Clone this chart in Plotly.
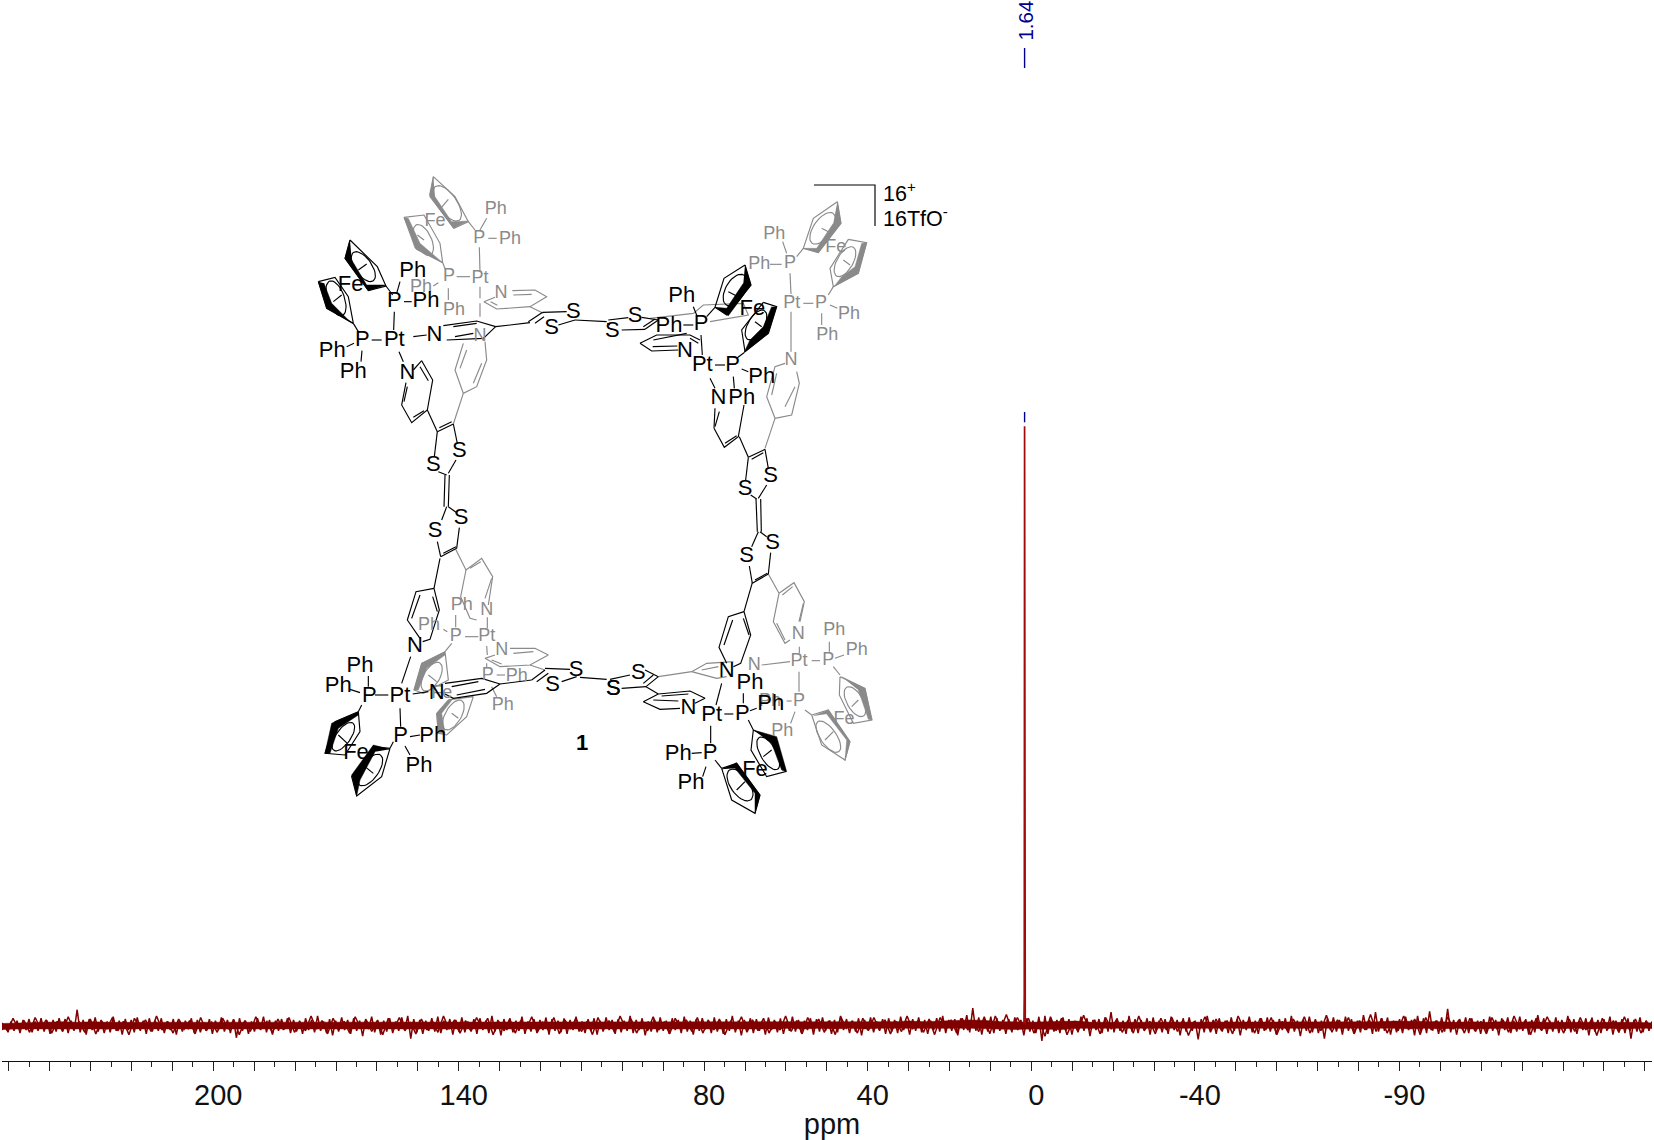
import numpy as np
import plotly.graph_objects as go

# ---------- spectrum data ----------
label_ppm = [200, 140, 80, 40, 0, -40, -90]
label_text = ["200", "140", "80", "40", "0", "-40", "-90"]
peak_label = "1.64"
peak_pos = 1.64
peak_ppm = [1.80, 1.72, 1.64, 1.56, 1.48]
peak_int = [0.3, 5.0, 100.0, 5.0, 0.3]
noise = [
 -0.6,0.1,-0.9,0.5,-0.7,0.6,-1.0,0.7,-0.6,0.8,-0.9,0.5,-0.7,0.9,-0.8,0.6,-1.1,0.7,-0.8,0.9,-0.6,0.8,-1.0,0.6,-0.7,2.0,-0.9,0.7,-1.2,0.8,-0.6,1.0,-0.8,0.7,-1.0,0.5,-0.9,1.1,-0.7,0.6,-1.2,0.8,-0.6,0.7,-0.9,1.0,-0.7,0.6,-1.1,0.9,
 -0.8,0.6,-0.7,0.9,-1.0,0.5,-0.6,0.8,-1.2,0.7,-0.8,0.6,-0.5,0.9,-1.0,0.7,-0.9,0.4,-0.7,0.8,-1.1,0.6,-0.6,1.0,-0.8,0.7,-1.0,0.8,-1.6,0.9,-0.7,0.6,-1.1,0.5,-0.8,0.9,-0.6,1.1,-0.9,0.7,-1.2,0.6,-0.7,0.8,-0.5,0.9,-1.0,0.7,-0.8,0.6,
 -1.1,0.9,-0.6,0.7,-0.9,1.2,-0.7,0.5,-1.0,0.8,-1.3,0.6,-0.8,1.0,-0.6,0.7,-1.1,0.9,-0.7,0.6,-1.4,0.8,-0.5,1.1,-0.9,0.7,-1.2,0.6,-0.8,0.9,-1.0,0.5,-0.7,1.0,-0.6,1.2,-1.7,0.8,-0.9,0.7,-1.1,0.6,-0.7,0.9,-0.8,1.1,-1.0,0.6,-0.6,0.8,
 -1.2,0.7,-0.8,1.0,-0.9,0.5,-0.7,0.8,-1.1,0.9,-0.6,0.6,-1.0,1.2,-0.8,0.7,-1.3,0.8,-0.6,0.9,-0.9,0.6,-0.7,1.1,-1.1,0.5,-0.8,0.8,-1.0,0.7,-0.6,1.0,-1.2,0.8,-0.7,0.6,-0.9,0.9,-1.1,0.7,-0.6,1.1,-0.8,0.5,-1.0,0.8,-0.7,0.9,-1.2,0.6,
 -0.8,1.0,-0.6,0.7,-1.1,0.8,-0.9,0.6,-0.7,1.2,-1.0,0.7,-0.6,0.9,-1.3,0.5,-0.8,0.8,-0.9,1.0,-0.7,0.6,-1.1,0.9,-0.6,0.7,-1.0,1.1,-0.8,0.6,-1.2,0.8,-0.7,0.9,-0.5,0.7,-1.0,1.0,-0.8,0.6,-1.1,0.8,-0.7,1.2,-0.9,0.6,-1.3,0.7,-0.6,0.9,
 -1.0,0.8,-0.7,0.6,-1.2,1.0,-0.6,0.7,-0.9,0.9,-1.1,0.5,-0.7,1.1,-0.8,0.7,-1.0,0.6,-0.6,0.9,-1.2,0.8,-0.8,1.0,-0.7,0.6,-1.1,0.7,-0.9,1.2,-0.6,0.8,-1.0,0.6,-0.8,0.9,-1.3,0.7,-0.6,1.0,-0.9,0.5,-0.7,0.8,-1.1,0.9,-0.8,0.7,-1.0,1.1,
 -0.6,0.6,-1.2,0.8,-0.7,1.0,-0.9,0.7,-1.1,0.6,-0.6,0.9,-0.8,1.2,-1.0,0.7,-0.7,0.8,-1.3,0.9,-0.6,1.3,-0.9,2.2,-0.7,1.0,-1.2,0.8,-0.8,1.1,-1.0,0.9,-0.7,0.7,-1.1,0.8,-0.9,1.0,-0.6,0.7,-1.3,0.9,-0.8,0.6,-1.0,1.1,-2.0,1.2,-1.1,0.9,
 -0.8,0.7,-1.0,1.0,-0.7,0.8,-1.2,0.6,-0.9,1.1,-0.7,0.9,-1.4,0.7,-0.6,0.8,-1.0,1.0,-0.8,1.7,-0.9,0.9,-0.7,0.6,-1.1,1.2,-0.8,0.8,-1.0,0.7,-0.6,0.9,-1.2,1.0,-0.7,0.6,-0.9,0.8,-1.1,1.1,-0.6,0.7,-1.3,0.9,-0.8,1.0,-0.7,0.6,-1.8,0.8,
 -0.9,1.2,-0.6,0.7,-1.1,0.9,-0.8,0.6,-1.0,1.0,-0.7,0.8,-1.3,0.7,-0.6,1.1,-0.9,0.6,-1.1,0.9,-0.7,1.0,-0.8,0.7,-1.2,0.8,-0.6,0.9,-1.0,1.2,-0.8,0.6,-1.4,0.7,-0.7,1.1,-0.9,0.8,-1.0,0.6,-1.7,0.9,-0.6,1.0,-0.8,0.7,-1.2,1.1,-0.7,0.8,
 -1.0,0.6,-0.9,1.3,-0.6,0.7,-1.1,1.7,-0.8,0.9,-0.7,1.0,-1.2,0.6,-0.9,0.8,-1.0,1.1,-0.6,0.7,-1.3,1.2,-0.8,0.9,-1.0,1.8,-0.7,0.6,-1.1,1.0,-0.8,2.1,-0.9,0.7,-1.2,0.8,-0.6,1.0,-1.0,0.9,-0.7,0.6,-1.1,0.8,-0.9,1.1,-0.7,0.7,-1.3,0.9,
 -0.6,1.0,-1.0,0.6,-0.8,1.1,-0.7,0.8,-1.2,0.7,-0.9,1.3,-0.6,0.9,-1.1,0.6,-0.8,1.0,-1.0,0.7,-0.7,1.2,-0.9,0.8,-1.1,0.6,-0.6,0.9,-1.3,1.0,-0.8,0.7,-1.0,0.8,-0.7,1.1,-1.2,0.6,-0.9,0.8,-1.0,0.9,-1.7,0.7,-0.8,1.0,-0.9,0.6,-0.7,0.5,
]
noise_b = [
 0.3,-0.7,0.9,-0.5,0.6,-0.9,1.0,-0.4,0.7,-1.0,0.5,-0.8,1.1,-0.6,0.4,-0.9,0.8,-1.1,0.6,-0.5,1.0,-0.7,0.5,-1.2,0.9,-0.4,0.7,-0.8,1.2,-0.6,
 0.5,-1.0,0.8,-0.5,0.6,-1.1,1.0,-0.7,0.4,-0.9,0.9,-0.5,0.7,-1.2,0.6,-0.8,1.1,-0.4,0.5,-1.0,0.8,-0.6,1.0,-0.9,0.4,-0.7,1.2,-0.5,0.6,-1.1,
 0.9,-0.6,0.5,-1.0,1.1,-0.4,0.7,-0.8,0.6,-1.2,0.9,-0.5,1.0,-0.7,0.4,-1.1,0.8,-0.6,0.5,-0.9,1.2,-0.5,0.7,-1.0,0.6,-0.8,1.0,-0.4,0.9,-1.2,
 0.5,-0.7,0.8,-1.0,0.6,-0.5,1.1,-0.9,0.4,-0.6,1.0,-1.1,0.7,-0.5,0.9,-0.8,0.5,-1.2,1.0,-0.6,0.6,-0.9,1.2,-0.4,0.8,-1.0,0.5,-0.7,1.1,-0.6,
 0.4,-1.1,0.9,-0.5,0.7,-0.8,1.0,-1.0,0.6,-0.6,0.8,-1.2,0.5,-0.4,1.1,-0.9,0.7,-0.7,0.9,-1.0,0.5,-0.6,1.2,-0.8,0.6,-1.1,1.0,-0.5,0.8,-0.9,
 0.6,-1.2,1.1,-0.4,0.5,-1.0,0.9,-0.7,1.0,-0.6,0.7,-1.1,0.5,-0.8,1.2,-0.5,0.6,-0.9,0.8,-1.2,1.0,-0.4,0.7,-1.0,0.9,-0.6,0.5,-0.8,1.1,-1.1,
 1.2,-0.5,1.4,-0.7,1.0,-0.4,0.9,-1.0,0.6,-1.4,1.1,-0.7,0.9,-1.2,0.5,-0.8,1.3,-0.6,0.7,-1.1,1.0,-0.5,0.8,-0.9,0.6,-1.0,1.2,-0.7,0.5,-1.1,
 0.9,-0.6,1.0,-0.8,0.7,-1.3,0.5,-0.5,1.1,-0.9,0.8,-0.7,0.6,-1.1,1.2,-0.4,0.7,-1.0,0.9,-0.6,1.0,-1.2,0.5,-0.8,0.8,-0.5,1.1,-1.0,0.6,-0.7,
 1.3,-0.9,0.7,-0.5,1.0,-1.1,0.6,-0.6,1.4,-0.8,0.9,-1.0,0.5,-0.7,1.2,-0.4,0.8,-1.2,1.0,-0.6,0.6,-0.9,1.1,-0.5,0.7,-1.0,0.9,-0.8,0.5,-1.1,
 1.0,-0.6,0.7,-0.9,1.2,-0.5,0.6,-1.2,0.9,-0.7,1.1,-0.4,0.5,-1.0,0.8,-0.8,1.0,-0.6,0.7,-1.3,0.9,-0.5,0.6,-0.9,1.1,-0.7,0.8,-1.0,0.5,-0.4,
]
# solid core of the noise band, read every 15 px or so
band_hi = [0.3,0.4,0.5,0.5,0.6,0.5,0.6,0.5,0.5,0.6,0.5,0.5,0.6,0.5,0.6,0.5,0.5,0.5,0.6,0.5,0.5,0.6,0.6,0.5,0.5,0.6,0.5,0.5,0.6,0.5,0.5,0.6,0.5,0.6,0.5,0.5,0.6,0.5,0.5,0.6,0.5,0.6,0.5,0.5,0.6,0.5,0.5,0.6,0.5,0.6,0.5,0.5,0.6,0.5,0.6,0.5,0.5,0.6,0.5,0.6,0.7,0.6,0.7,0.8,0.9,0.8,0.6,0.6,0.5,0.6,0.6,0.7,0.5,0.5,0.6,0.5,0.6,0.5,0.5,0.6,0.5,0.6,0.5,0.5,0.6,0.5,0.6,0.5,0.6,0.5,0.6,0.6,0.7,0.7,0.6,0.6,0.5,0.6,0.5,0.6,0.5,0.6,0.5,0.5,0.6,0.5,0.6,0.5,0.5,0.4]
band_lo = [-0.7,-0.6,-0.6,-0.5,-0.6,-0.5,-0.6,-0.6,-0.5,-0.6,-0.5,-0.6,-0.5,-0.5,-0.6,-0.6,-0.5,-0.6,-0.5,-0.6,-0.6,-0.5,-0.6,-0.5,-0.5,-0.6,-0.6,-0.5,-0.6,-0.5,-0.6,-0.5,-0.6,-0.5,-0.5,-0.6,-0.6,-0.5,-0.6,-0.5,-0.6,-0.5,-0.6,-0.6,-0.5,-0.5,-0.6,-0.5,-0.6,-0.5,-0.6,-0.6,-0.5,-0.6,-0.5,-0.6,-0.5,-0.6,-0.5,-0.5,-0.4,-0.5,-0.5,-0.5,-0.5,-0.6,-0.6,-0.7,-0.6,-0.6,-0.7,-0.5,-0.6,-0.5,-0.6,-0.5,-0.6,-0.6,-0.5,-0.6,-0.5,-0.6,-0.6,-0.5,-0.6,-0.5,-0.6,-0.5,-0.6,-0.6,-0.5,-0.5,-0.5,-0.6,-0.5,-0.6,-0.5,-0.6,-0.6,-0.5,-0.6,-0.5,-0.6,-0.6,-0.5,-0.6,-0.5,-0.6,-0.5,-0.5]
noise_ppm_start, noise_ppm_stop = 251.66, -151.76
NOISE_CAL = 1.3  # calibration of the typed noise readings to the picture

# ---------- scale of the page ----------
PX_ZERO, PX_PER_PPM = 1031.3, 4.09
BASE_Y, PX_PER_UNIT = 1025.3, 5.99
AXIS_Y = 1060.5
W, H = 1654, 1140
MAROON, NAVY, GRAY = "#800000", "#00008f", "#8a8a8a"
FONT = "Liberation Sans, Arial, sans-serif"

def ppm_at(px, off=0.0):
    return (PX_ZERO + off - px) / PX_PER_PPM
def inten_at(py):
    return (BASE_Y - py) / PX_PER_UNIT

# ---------- molecule drawing, in the crop frames it was read from ----------
def ell(cx, cy, a, b, deg):
    t = np.linspace(0, 2 * np.pi, 37)
    th = np.radians(deg)
    return list(zip(cx + a*np.cos(t)*np.cos(th) - b*np.sin(t)*np.sin(th),
                    cy + a*np.cos(t)*np.sin(th) + b*np.sin(t)*np.cos(th)))

frames = [
 dict(o=(300,160),
  k=[[(150,240),(232,320),(258,378),(205,392),(135,295),(150,240)],[(175,330),(200,312)],[(258,378),(278,405)],[(300,365),(290,400)],
     [(312,425),(335,425)],[(55,365),(105,352),(145,410),(160,490),(80,445),(55,365)],[(100,425),(125,405)],[(160,490),(175,515)],
     [(215,540),(245,540)],[(340,530),(380,525)],[(140,560),(162,550)],[(186,572),(183,605)],[(283,455),(281,510)],[(297,575),(310,605)],
     [(365,602),(398,660),(382,750),(335,788),(305,735),(318,668)],[(340,630),(365,602)],[(360,620),(385,662)],[(322,680),(312,725)],[(340,772),(372,752)],
     [(382,750),(412,815)],[(412,815),(460,792)],[(418,803),(455,785)],[(460,792),(472,850)],[(412,815),(403,890)],
     [(430,497),(530,483),(587,500),(550,535),(440,540)],[(460,500),(530,490)],[(465,530),(520,520)],[(587,500),(690,488)]],
  g=[[(400,50),(465,110),(505,185),(462,205),(390,110),(400,50)],[(422,145),(445,118)],[(505,185),(525,210)],[(560,175),(540,210)],[(565,235),(590,235)],
     [(538,262),(540,335)],[(312,172),(372,165),(420,250),(428,308),(350,268),(312,172)],[(428,308),(437,330)],[(470,350),(510,350)],[(415,368),(400,378)],[(445,385),(445,420)],
     [(540,380),(540,415)],[(540,430),(540,470)],[(637,392),(705,390),(740,410),(690,440),(590,447),(552,425),(585,412)],[(640,405),(695,403)],[(572,425),(592,436)],[(690,440),(730,460)],
     [(555,545),(560,600),(530,680),(490,700),(465,630),(490,550)],[(480,625),(500,570)],[(520,670),(545,610)],[(490,700),(460,792)],[(372,240),(352,225)]],
  kf=[[(150,240),(135,295),(205,392),(258,375),(200,375),(155,300)],[(55,365),(80,445),(160,492),(145,480),(95,430),(72,370)]],
  gf=[[(400,50),(388,105),(460,205),(505,183),(455,185),(405,110)],[(312,172),(345,265),(428,308),(400,285),(360,250),(325,175)]],
  ke=[(190,320,52,25,55),(108,415,55,25,70)],
  ge=[(442,130,62,28,55),(370,240,50,24,65)]),
 dict(o=(600,170),
  k=[[(435,285),(453,345),(380,435),(345,412),(372,325),(435,285)],[(385,365),(410,378)],[(345,412),(320,440)],[(280,410),(292,440)],[(250,465),(280,465)],[(303,495),(307,555)],
     [(345,585),(375,585)],[(490,397),(530,410),(505,490),(435,545),(425,480),(490,397)],[(465,455),(485,470)],[(432,548),(410,565)],[(425,597),(445,605)],[(400,620),(403,655)],[(330,625),(345,655)],
     [(120,520),(170,495),(270,495),(300,510)],[(120,520),(155,543),(235,540)],[(160,510),(260,490)],[(158,530),(232,528)],[(270,505),(295,520)],
     [(342,775),(373,832),(415,800),(432,705)],[(345,715),(342,775)],[(358,725),(345,770)],[(375,820),(410,797)]],
  g=[[(150,445),(280,430),(310,405),(430,400),(445,435),(330,455)],[(525,745),(575,735),(598,640),(590,605)],[(525,745),(500,680),(525,590),(555,580)],[(515,675),(530,610)],[(555,710),(585,650)],
     [(495,835),(525,745)],[(610,400),(640,400)],[(690,405),(712,415)],[(665,430),(665,465)],[(573,425),(573,545)],[(573,372),(570,310)],[(510,283),(545,283)],[(548,215),(560,250)],[(590,260),(610,235)],
     [(712,95),(723,160),(655,248),(610,235),(640,145),(712,95)],[(665,175),(685,185)],[(745,208),(800,218),(775,310),(700,350),(690,295),(745,208)],[(730,270),(750,285)],[(700,350),(685,375)]],
  kf=[[(435,285),(453,345),(385,437),(345,412),(380,415),(430,340)],[(530,410),(505,490),(432,548),(450,510),(490,470),(515,410)]],
  gf=[[(712,95),(723,160),(655,248),(610,235),(650,235),(700,160)],[(800,218),(775,310),(702,350),(725,320),(765,290),(785,220)]],
  ke=[(405,360,52,28,-60),(468,465,50,24,-60)],
  ge=[(668,175,55,27,-55),(735,275,50,24,-60)]),
 dict(o=(380,400),
  k=[[(175,215),(200,225)],[(228,180),(205,220)],[(195,225),(192,320)],[(208,225),(205,320)],
     [(200,320),(185,360)],[(205,320),(230,338)],[(172,425),(182,470)],[(238,383),(230,445)],[(182,470),(230,445)],[(190,460),(228,440)],
     [(1078,110),(1105,172)],[(1105,172),(1155,148)],[(1115,178),(1150,158)],
     [(1105,172),(1097,240)],[(1155,148),(1165,205)],[(1112,285),(1130,297)],[(1160,255),(1135,295)],[(1128,297),(1132,395)],[(1142,297),(1144,395)],[(1135,395),(1115,440)],[(1140,395),(1160,410)],
     [(1108,498),(1117,550)],[(1172,458),(1165,522)],[(1117,550),(1165,522)],[(1125,540),(1162,520)]],
  g=[],kf=[],gf=[],ke=[],ge=[]),
 dict(o=(520,270),
  k=[[(25,155),(68,127)],[(45,160),(72,140)],[(68,127),(140,125)],[(115,165),(165,150)],[(165,150),(260,155)],[(265,150),(325,143)],[(262,160),(270,165)],[(305,180),(375,178)],
     [(375,178),(415,150)],[(370,170),(405,147)],[(365,142),(415,150)]],
  g=[],kf=[],gf=[],ke=[],ge=[]),
 dict(o=(310,540),
  k=[[(372,145),(318,155),(292,240),(330,295)],[(372,145),(388,210),(360,298),(338,305)],[(330,165),(305,235)],[(368,170),(382,215)],[(372,145),(390,55)],
     [(195,465),(235,465)],[(308,462),(355,455)],[(275,430),(302,350)],[(175,408),(175,440)],[(120,448),(150,458)],[(270,505),(272,560)],[(300,590),(330,585)],[(285,618),(300,645)],
     [(155,495),(145,515)],[(145,515),(150,575),(105,645),(45,640),(75,545),(145,515)],[(85,585),(112,610)],[(250,605),(240,625)],[(240,625),(215,710),(140,768),(125,710),(190,620),(240,625)],[(165,680),(190,700)],
     [(405,430),(515,415),(570,432),(530,460),(430,475),(405,462)],[(425,440),(505,425)],[(440,465),(525,448)],[(570,432),(665,420)],[(665,420),(705,390)],[(680,425),(715,400)],[(705,385),(780,388)],[(755,425),(800,410)]],
  g=[[(437,28),(468,90)],[(468,90),(515,55),(548,110),(535,195)],[(480,85),(512,65)],[(545,115),(525,175)],[(468,90),(452,170),(480,235),(500,240)],[(465,290),(505,290)],[(400,268),(412,275)],[(437,225),(437,262)],[(532,232),(532,265)],
     [(530,318),(532,345)],[(530,370),(530,385)],[(600,325),(675,325),(715,345),(660,375),(570,380),(525,355),(555,345)],[(610,340),(670,335)],[(545,360),(575,372)],[(660,375),(705,390)],[(560,405),(585,405)],[(545,440),(560,470)],
     [(425,310),(405,335)],[(405,335),(415,420),(340,460),(312,450),(335,370),(405,335)],[(355,405),(380,425)],[(490,470),(470,530),(410,585),(385,580),(380,520),(415,480),(490,470)],[(425,520),(445,535)]],
  kf=[[(145,515),(65,550),(45,640),(60,640),(85,565),(145,525)],[(240,628),(190,615),(125,705),(140,768),(150,720),(195,635)]],
  gf=[[(405,335),(335,370),(312,450),(325,450),(350,385),(405,345)],[(380,520),(385,580),(405,580),(395,520),(430,475),(415,480)]],
  ke=[(100,590,50,22,-55),(180,690,55,26,-55)],
  ge=[(365,410,48,24,-60),(430,525,50,24,-60)]),
 dict(o=(440,620),
  k=[[(420,172),(500,178)],[(510,178),(570,165)],[(545,205),(618,200)],[(618,200),(655,170)],[(610,190),(640,165)],[(615,150),(655,170)],[(618,200),(655,222)],
     [(655,222),(610,245),(660,268),(720,265)],[(655,222),(750,213),(795,235),(765,250)],[(640,240),(715,243)],[(665,228),(745,222)]],
  g=[[(655,170),(755,155)],[(755,155),(800,130),(880,125)],[(755,155),(830,175),(860,170)],[(785,150),(835,140)]],
  kf=[],gf=[],ke=[],ge=[]),
 dict(o=(620,560),
  k=[[(372,155),(325,170),(297,262),(320,310)],[(372,155),(392,225),(362,310),(340,320)],[(338,180),(312,255)],[(370,175),(387,225)],[(397,68),(372,155)],
     [(313,462),(340,462)],[(370,400),(370,430)],[(390,452),(410,445)],[(288,435),(305,370)],[(272,497),(272,550)],[(215,580),(245,578)],[(258,620),(248,650)],
     [(385,480),(400,510)],[(400,510),(470,545),(497,635),(440,650),(393,570),(400,510)],[(430,590),(455,570)],[(285,600),(305,625)],[(305,625),(350,610),(420,705),(405,760),(335,720),(305,625)],[(350,690),(375,665)]],
  g=[[(425,315),(510,305)],[(575,302),(600,302)],[(628,245),(628,275)],[(645,295),(672,285)],[(538,260),(538,280)],[(445,42),(477,100)],[(477,100),(522,68),(553,125),(540,185)],[(477,100),(460,185),(495,250),(510,240)],[(487,105),(518,80)],[(550,130),(537,185)],[(470,190),(495,240)],
     [(537,335),(537,395)],[(525,455),(512,490)],[(500,423),(515,423)],[(640,320),(660,345)],[(660,350),(735,385),(755,480),(700,490),(658,405),(660,350)],[(695,440),(715,420)],[(555,450),(575,465)],[(575,465),(625,450),(690,545),(675,600),(605,555),(575,465)],[(615,540),(640,515)]],
  kf=[[(400,510),(470,530),(500,635),(485,630),(455,550)],[(305,628),(350,608),(420,705),(405,760),(405,700),(345,625)]],
  gf=[[(665,350),(735,385),(757,480),(745,478),(715,390)],[(580,468),(625,450),(690,545),(675,602),(680,540),(620,462)]],
  ke=[(445,580,55,24,60),(360,675,55,28,55)],
  ge=[(705,425,50,24,60),(625,530,55,24,55)]),
]
bracket = [(814,185),(875,185),(875,226)]

black_labels = {
 (300,160): [(338,335,"Ph"),(283,425,"P"),(378,425,"Ph"),(152,375,"Fe"),(187,540,"P"),(283,540,"Pt"),(403,525,"N"),(97,575,"Ph"),(160,638,"Ph"),(322,640,"N"),(820,458,"S"),(755,505,"S"),(478,875,"S")],
 (380,400): [(160,195,"S"),(165,395,"S"),(243,355,"S"),(1095,268,"S"),(1172,230,"S"),(1100,470,"S"),(1178,430,"S")],
 (520,270): [(345,138,"S"),(277,183,"S")],
 (600,170): [(245,380,"Ph"),(303,462,"P"),(207,470,"Ph"),(255,545,"N"),(307,585,"Pt"),(398,585,"P"),(485,622,"Ph"),(425,685,"Ph"),(355,685,"N"),(457,418,"Fe")],
 (310,540): [(315,320,"N"),(380,460,"N"),(270,470,"Pt"),(178,470,"P"),(150,378,"Ph"),(85,440,"Ph"),(272,590,"P"),(368,590,"Ph"),(327,680,"Ph"),(138,640,"Fe"),(798,390,"S"),(728,435,"S"),(910,447,"S")],
 (440,620): [(595,160,"S"),(520,208,"S"),(745,265,"N")],
 (620,560): [(320,335,"N"),(275,465,"Pt"),(367,462,"P"),(390,370,"Ph"),(452,432,"Ph"),(270,580,"P"),(175,582,"Ph"),(213,670,"Ph"),(405,632,"Fe")],
}
gray_labels = {
 (300,160): [(587,148,"Ph"),(538,235,"P"),(630,238,"Ph"),(540,355,"Pt"),(405,185,"Fe"),(447,350,"P"),(363,382,"Ph"),(462,450,"Ph"),(603,400,"N"),(540,530,"N")],
 (600,170): [(523,192,"Ph"),(570,280,"P"),(478,283,"Ph"),(707,232,"Fe"),(575,400,"Pt"),(663,400,"P"),(747,433,"Ph"),(682,495,"Ph"),(573,572,"N")],
 (310,540): [(455,195,"Ph"),(357,257,"Ph"),(437,290,"P"),(530,290,"Pt"),(530,210,"N"),(575,330,"N"),(533,405,"P"),(620,408,"Ph"),(578,497,"Ph"),(395,460,"Fe")],
 (620,560): [(403,315,"N"),(537,305,"Pt"),(625,302,"P"),(643,210,"Ph"),(710,272,"Ph"),(535,222,"N"),(537,423,"P"),(450,425,"Ph"),(487,515,"Ph"),(672,478,"Fe")],
}
compound_label = "1"
charge_labels = ["16<sup>+</sup>", "16TfO<sup>-</sup>"]

fig = go.Figure()

def add_paths(paths, color, width, fill=False):
    xs, ys = [], []
    for p in paths:
        xs += [q[0] for q in p] + [None]
        ys += [q[1] for q in p] + [None]
    if not xs:
        return
    fig.add_trace(go.Scatter(x=xs, y=ys, mode="lines", line=dict(color=color, width=width),
                             fill="toself" if fill else None, fillcolor=color if fill else None,
                             xaxis="x2", yaxis="y2", hoverinfo="skip"))

def to_page(o, pts):
    return [(o[0] + x/3, o[1] + y/3) for x, y in pts]

for colour, lk, fk, ek in [(GRAY, "g", "gf", "ge"), ("#000000", "k", "kf", "ke")]:
    lines, fills = [], []
    for f in frames:
        lines += [to_page(f["o"], p) for p in f[lk]]
        lines += [to_page(f["o"], ell(*e)) for e in f[ek]]
        fills += [to_page(f["o"], p) for p in f[fk]]
    add_paths(fills, colour, 0.5, fill=True)
    add_paths(lines, colour, 1.15)
add_paths([bracket], "#000000", 1.15)

def add_text(groups, colour, size):
    xs, ys, ts = [], [], []
    for o, items in groups.items():
        for x, y, t in items:
            xs.append(o[0] + x/3); ys.append(o[1] + y/3); ts.append(t)
    fig.add_trace(go.Scatter(x=xs, y=ys, text=ts, mode="text", textposition="middle center",
                             textfont=dict(family=FONT, size=size, color=colour),
                             xaxis="x2", yaxis="y2", hoverinfo="skip"))
add_text(gray_labels, GRAY, 18)
add_text(black_labels, "#000000", 22)
fig.add_annotation(x=582, y=742, xref="x2", yref="y2", text="<b>%s</b>" % compound_label, showarrow=False,
                   font=dict(family=FONT, size=22, color="#000000"))
for yy, t in zip([192, 217], charge_labels):
    fig.add_annotation(x=881, y=yy, xref="x2", yref="y2", text=t, showarrow=False, xanchor="left",
                       font=dict(family=FONT, size=21.5, color="#000000"))

# spectrum
band_ppm = np.linspace(noise_ppm_start, noise_ppm_stop, len(band_hi))
fig.add_trace(go.Scatter(x=list(band_ppm) + list(band_ppm[::-1]), y=band_hi + band_lo[::-1], mode="lines",
                         fill="toself", fillcolor=MAROON, line=dict(color=MAROON, width=0.5),
                         hoverinfo="skip", xaxis="x", yaxis="y"))
for series in (noise, noise_b):
    fig.add_trace(go.Scatter(x=np.linspace(noise_ppm_start, noise_ppm_stop, len(series)),
                             y=[v * NOISE_CAL for v in series], mode="lines",
                             line=dict(color=MAROON, width=1.5), hoverinfo="skip", xaxis="x", yaxis="y"))
fig.add_trace(go.Scatter(x=peak_ppm, y=peak_int, mode="lines", line=dict(color="#a00a0a", width=1.7),
                         hoverinfo="skip", xaxis="x", yaxis="y"))
for a, b in [(412, 422.3), (48, 68)]:
    fig.add_trace(go.Scatter(x=[peak_pos, peak_pos], y=[inten_at(a), inten_at(b)], mode="lines",
                             line=dict(color=NAVY, width=1.4), hoverinfo="skip", xaxis="x", yaxis="y"))
fig.add_annotation(x=peak_pos, y=inten_at(21), xref="x", yref="y", text=peak_label, textangle=-90, showarrow=False,
                   font=dict(family=FONT, size=20.5, color=NAVY))
# carrier of the shifted label axis
fig.add_trace(go.Scatter(x=label_ppm, y=[None]*len(label_ppm), mode="markers", xaxis="x3", yaxis="y", hoverinfo="skip"))

fig.update_layout(
    width=W, height=H, autosize=False, showlegend=False, hovermode=False,
    margin=dict(l=0, r=0, t=0, b=0, pad=0),
    paper_bgcolor="white", plot_bgcolor="rgba(0,0,0,0)",
    xaxis=dict(domain=[2/W, 1652/W], range=[ppm_at(2), ppm_at(1652)], anchor="y",
               showline=True, linecolor="#111111", linewidth=1.2, showgrid=False, zeroline=False,
               tick0=0, dtick=10, ticks="outside", ticklen=9, tickwidth=1, tickcolor="#222222", showticklabels=False,
               minor=dict(tick0=0, dtick=5, ticks="outside", ticklen=5, tickwidth=1, tickcolor="#222222", showgrid=False)),
    xaxis3=dict(domain=[12/W, 1652/W], range=[ppm_at(12, 5), ppm_at(1652, 5)], anchor="y", side="bottom",
                tickmode="array", tickvals=label_ppm, ticktext=label_text, ticks="", showgrid=False, zeroline=False, showline=False,
                tickfont=dict(family=FONT, size=29, color="#111111"), ticklabelstandoff=14,
                title=dict(text="ppm", font=dict(family=FONT, size=29, color="#111111"), standoff=0)),
    yaxis=dict(domain=[(H-AXIS_Y)/H, 1], range=[inten_at(AXIS_Y), inten_at(0)], visible=False, fixedrange=True),
    xaxis2=dict(domain=[0, 1], range=[0, W], visible=False, anchor="y2"),
    yaxis2=dict(domain=[0, 1], range=[H, 0], visible=False, anchor="x2"),
)
fig.write_html("out.html", config={"displayModeBar": False},
               post_script="document.body.style.margin='0';document.body.style.overflow='hidden';")
